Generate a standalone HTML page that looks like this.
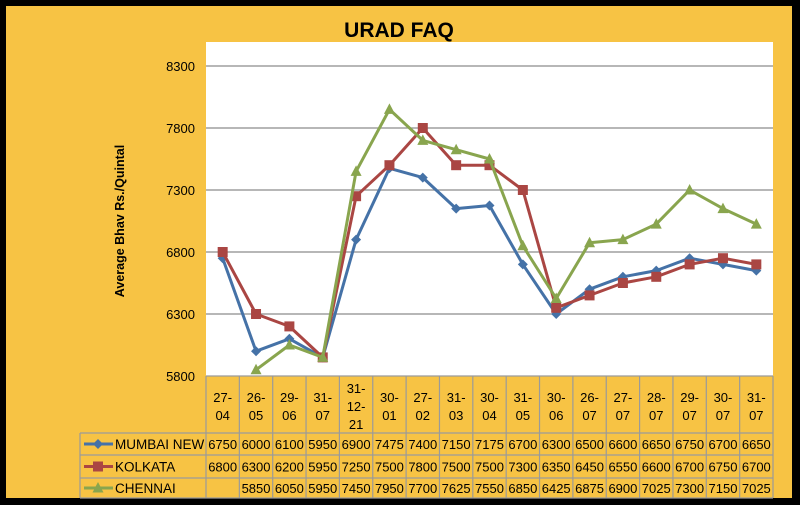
<!DOCTYPE html>
<html><head><meta charset="utf-8"><style>
html,body{margin:0;padding:0;background:#000;}
svg{display:block;font-family:"Liberation Sans",sans-serif;}
</style></head><body>
<svg id="s" width="800" height="505" xmlns="http://www.w3.org/2000/svg">
<rect x="0" y="0" width="800" height="505" fill="#000"/>
<rect x="6" y="6" width="786" height="492" fill="#F7C344"/>
<text x="399" y="37" text-anchor="middle" font-size="21" font-weight="bold" fill="#000">URAD FAQ</text>
<rect x="206" y="42" width="567" height="334" fill="#fff"/>
<g id="g"></g>
<text transform="translate(124,221) rotate(-90)" text-anchor="middle" font-size="12.5" font-weight="bold">Average Bhav Rs./Quintal</text>
</svg>
<script>
var NS="http://www.w3.org/2000/svg",g=document.getElementById('g');
function el(t,a,txt){var e=document.createElementNS(NS,t);for(var k in a)e.setAttribute(k,a[k]);if(txt!=null)e.textContent=txt;g.appendChild(e);return e;}
var L=206,R=773,W=(R-L)/17;
function Y(v){return 376-(v-5800)*0.124;}
function X(i){return L+W*(i+0.5);}
[8300,7800,7300,6800,6300,5800].forEach(function(v){
 if(v>5800)el('line',{x1:L,x2:R,y1:Y(v),y2:Y(v),stroke:'#8c8c8c','stroke-width':1.3});
 el('text',{x:195,y:Y(v)+5,'text-anchor':'end','font-size':13},v);
});
var cats=[["27-","04"],["26-","05"],["29-","06"],["31-","07"],["31-","12-","21"],["30-","01"],["27-","02"],["31-","03"],["30-","04"],["31-","05"],["30-","06"],["26-","07"],["27-","07"],["28-","07"],["29-","07"],["30-","07"],["31-","07"]];
var data=[
 {n:"MUMBAI NEW",c:"#4572A7",m:"d",v:[6750,6000,6100,5950,6900,7475,7400,7150,7175,6700,6300,6500,6600,6650,6750,6700,6650]},
 {n:"KOLKATA",c:"#AA4643",m:"s",v:[6800,6300,6200,5950,7250,7500,7800,7500,7500,7300,6350,6450,6550,6600,6700,6750,6700]},
 {n:"CHENNAI",c:"#89A54E",m:"t",v:[null,5850,6050,5950,7450,7950,7700,7625,7550,6850,6425,6875,6900,7025,7300,7150,7025]}];
var gc='#9a9a9a';
var rows=[376,433,455,478,498];
for(var i=0;i<=17;i++){var x=L+W*i;el('line',{x1:x,x2:x,y1:376,y2:498,stroke:gc,'stroke-width':1.2});}
el('line',{x1:80,x2:80,y1:433,y2:498,stroke:gc,'stroke-width':1.2});
rows.forEach(function(y,k){el('line',{x1:k==0?L:80,x2:R,y1:y,y2:y,stroke:gc,'stroke-width':1.2});});
cats.forEach(function(c,i){
 var n=c.length,y0=n==3?393:402;
 c.forEach(function(t,j){el('text',{x:X(i),y:y0+j*18,'text-anchor':'middle','font-size':13},t);});
});
function marker(m,x,y,c){
 if(m=="d")el('polygon',{points:(x)+","+(y-5)+" "+(x+5)+","+y+" "+x+","+(y+5)+" "+(x-5)+","+y,fill:c});
 else if(m=="s")el('rect',{x:x-5,y:y-5,width:10,height:10,fill:c});
 else el('polygon',{points:x+","+(y-6)+" "+(x+5.5)+","+(y+4.5)+" "+(x-5.5)+","+(y+4.5),fill:c});
}
data.forEach(function(s,k){
 var pts=[];s.v.forEach(function(v,i){if(v!=null)pts.push(X(i)+","+Y(Math.max(v,5800)));});
 el('polyline',{points:pts.join(" "),fill:"none",stroke:s.c,'stroke-width':3,'stroke-linejoin':'round'});
 s.v.forEach(function(v,i){if(v!=null&&v>=5800)marker(s.m,X(i),Y(v),s.c);});
 var ry=(rows[k+1]+rows[k+2])/2;
 el('line',{x1:84,x2:113,y1:ry,y2:ry,stroke:s.c,'stroke-width':3});
 marker(s.m,98,ry,s.c);
 el('text',{x:115,y:ry+5,'font-size':13.5},s.n);
 s.v.forEach(function(v,i){if(v!=null)el('text',{x:X(i),y:ry+5,'text-anchor':'middle','font-size':13},v);});
});
</script>
</body></html>
